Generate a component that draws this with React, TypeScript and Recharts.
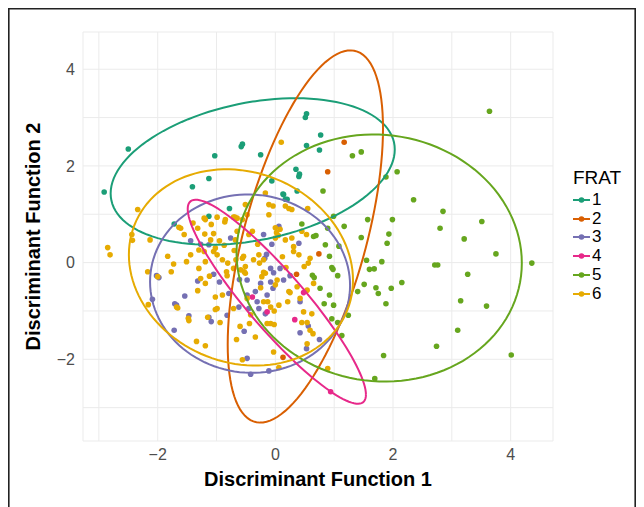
import React from 'react';
import { ScatterChart, Scatter, XAxis, YAxis, CartesianGrid, Label } from 'recharts';

// FRAT group colours (Dark2)
const fratLevels = ['1', '2', '3', '4', '5', '6'];
const fratColors = ['#1B9E77', '#D95F02', '#7570B3', '#E7298A', '#66A61E', '#E6AB02'];

const xTicks = [-3, -2, -1, 0, 1, 2, 3, 4];
const yTicks = [-3, -2, -1, 0, 1, 2, 3, 4];

// [DF1, DF2] scores per group
const frat1 = [
  [-2.5, 2.35], [-2.91, 1.46], [-1.03, 2.21], [-0.56, 2.45], [-0.58, 2.4], [-0.25, 2.23],
  [-1.13, 1.74], [-1.41, 1.57], [-0.06, 1.69], [0.14, 1.41], [0.2, 1.31], [-1.13, 0.96],
  [-0.78, 1.12], [0.53, 3.08], [0.51, 3.0], [0.77, 2.64], [0.53, 2.42], [0.75, 2.33],
  [0.35, 1.93], [0.41, 1.83], [0.4, 1.78], [0.13, 1.42], [0.17, 1.31], [0.37, 1.48], [-1.72, 0.8],
];
const frat2 = [[1.17, 2.49], [0.89, 1.88], [0.74, 0.18], [0.36, -0.24], [0.13, -1.96]];
const frat3 = [
  [-1.44, 0.45], [-1.27, 0.38], [-1.13, 0.37], [-0.76, 0.51], [-2.02, -0.27], [-1.98, -0.31],
  [-2.09, -0.76], [-1.54, -0.69], [-1.71, -0.85], [-1.68, -0.88], [-1.32, -0.38], [-1.05, -0.24],
  [-0.95, -0.4], [-0.79, -0.64], [-0.61, -0.35], [-1.47, -1.1], [-1.13, -1.13], [-0.62, -0.92],
  [-0.48, -0.67], [0.06, 0.75], [-0.2, 0.58], [-0.06, 0.38], [-0.15, 0.17], [-0.18, 0.09],
  [0.4, 0.4], [-0.08, -0.12], [-0.03, -0.21], [0.08, -0.12], [-0.48, -0.36], [-0.25, -0.43],
  [-0.08, -0.4], [-0.04, -0.53], [0.14, -0.36], [0.25, -0.27], [-0.34, -0.6], [-0.14, -0.67],
  [0.42, -0.81], [-0.31, -0.81], [-0.28, -0.95], [-0.45, -0.95], [-1.72, -1.4], [-1.09, -1.22],
  [-0.82, -1.09], [-0.53, -1.42], [-0.48, -1.98], [-0.42, -2.31], [-0.11, -2.24], [0.42, -1.45],
  [0.75, -1.59], [0.53, -1.78], [0.56, -1.31], [-0.17, -1.06],
];
const frat4 = [[0.48, -0.62], [-0.39, -0.71], [-0.14, -1.02], [0.33, -1.18], [0.94, -2.67]];
const frat5 = [
  [3.64, 3.13], [1.31, 2.21], [1.46, 2.29], [2.07, 1.88], [1.88, 1.77], [0.81, 1.48], [2.35, 1.3],
  [2.85, 1.06], [3.51, 0.85], [2.8, 0.71], [3.21, 0.49], [1.99, 0.89], [1.57, 0.89], [1.93, 0.59],
  [1.17, 0.75], [1.46, 0.52], [0.99, 0.96], [0.45, 0.8], [0.69, 0.56], [0.65, 0.54], [0.89, 0.71],
  [3.75, 0.18], [4.36, -0.01], [2.71, -0.05], [2.76, -0.05], [3.27, -0.24], [2.15, -0.41],
  [1.97, -0.53], [3.15, -0.79], [3.59, -0.9], [3.1, -1.4], [2.74, -1.73], [4.01, -1.91],
  [1.84, -1.92], [1.69, -2.4], [1.88, -0.85], [1.75, -0.64], [1.71, -0.52], [1.51, -0.45],
  [1.4, -0.6], [1.55, 0.05], [1.6, -0.14], [1.68, -0.13], [1.81, 0.02], [1.9, 0.4], [0.85, 0.37],
  [1.08, 0.34], [0.92, 0.13], [0.96, -0.1], [0.98, -0.14], [1.06, -0.27], [0.63, -0.26],
  [0.66, -0.31], [0.76, -0.53], [0.92, -0.67], [0.83, -0.85], [0.96, -1.16], [1.06, -1.24],
  [1.13, -1.51], [0.99, -0.88], [1.24, -1.09],
];
const frat6 = [
  [0.1, 2.49], [-2.34, 1.1], [-0.17, 1.44], [-0.11, 1.2], [-0.04, 1.17], [0.17, 1.17],
  [-2.85, 0.31], [-2.81, 0.16], [-2.43, 0.46], [-2.13, 0.47], [-1.61, 0.71], [-1.55, 0.58],
  [-1.32, 0.71], [-1.19, 0.89], [-1.09, 0.79], [-0.99, 0.94], [-0.86, 0.84], [-1.2, 0.59],
  [-1.1, 0.47], [-1.44, 0.16], [-1.51, 0.02], [-1.83, 0.13], [-1.73, -0.03], [-1.77, -0.19],
  [-2.17, -0.19], [-2.0, -0.29], [-1.3, 0.26], [-1.21, 0.23], [-1.19, 0.02], [-1.05, 0.23],
  [-0.99, 0.16], [-1.02, 0.3], [-0.95, 0.45], [-1.3, -0.12], [-1.27, -0.33], [-1.32, -0.58],
  [-1.19, -0.43], [-0.81, -0.01], [-0.83, -0.19], [-0.82, -0.27], [-0.71, -0.12], [-1.02, -0.71],
  [-0.9, -0.67], [-1.02, -0.97], [-1.66, -0.94], [-1.48, -1.15], [-2.16, -0.87], [-0.68, 0.47],
  [-0.65, 0.65], [-0.65, 0.92], [-0.51, 1.2], [-0.48, 0.99], [-0.54, 0.13], [-0.53, -0.19],
  [-0.11, 0.99], [0.23, 1.12], [0.28, 1.1], [0.55, 1.12], [-0.71, 0.94], [-0.39, 0.65],
  [-0.45, 0.58], [0.0, 0.72], [0.08, 0.69], [0.02, 0.62], [0.05, 0.56], [0.0, 0.51], [0.17, 0.47],
  [0.28, 0.51], [0.31, 0.33], [0.45, 0.65], [0.53, 0.58], [0.31, 0.23], [0.4, 0.16], [0.59, 0.09],
  [0.56, -0.01], [0.49, -0.08], [-0.67, 0.06], [-0.56, 0.09], [-0.59, -0.15], [-0.51, -0.08],
  [-0.51, -0.22], [-0.37, 0.06], [-0.28, 0.16], [-0.27, -0.01], [-0.2, 0.06], [-0.2, -0.2],
  [-0.17, -0.22], [-0.23, -0.29], [0.0, -0.46], [0.03, -0.36], [0.23, -0.6], [0.25, -0.62],
  [0.37, -0.5], [0.65, -0.43], [0.42, -0.74], [0.54, -0.57], [0.21, -0.81], [-0.2, -0.81],
  [-0.13, -0.81], [-0.08, -0.92], [0.06, -0.88], [-0.48, -0.74], [-0.71, -0.95], [0.62, -1.06],
  [0.48, -1.02], [-0.56, 0.89], [-1.47, -1.2], [-1.34, -1.63], [-1.19, -1.72], [-1.15, -1.13],
  [-0.94, -1.24], [-0.99, -0.95], [-0.66, -1.59], [-0.44, -1.26], [-0.34, -1.54], [-0.56, -2.01],
  [-0.14, -1.26], [-0.08, -1.26], [-0.02, -1.28], [-0.02, -1.0], [-0.03, -1.85], [0.06, -2.17],
  [0.45, -1.24], [0.54, -1.24], [0.59, -1.4], [0.64, -1.47], [0.54, -1.68], [0.89, -2.19],
  [-1.68, -0.92], [-2.44, 0.58], [-1.64, 0.73], [-1.21, 0.92], [-0.85, 0.89], [-0.69, 0.94],
  [-1.4, 0.82], [-1.05, 0.6], [-0.87, 0.36], [-0.9, 0.06], [-1.12, -0.28], [-0.7, 0.25],
  [-0.3, 0.38], [-0.25, -0.52], [0.12, 0.12], [0.18, -0.1], [-0.42, -1.08], [-0.6, -1.32],
];
const groups = [frat1, frat2, frat3, frat4, frat5, frat6];

// 95% ellipses: centre, half-widths along x / y, and correlation (tilt)
const ellCx = [-0.385, 0.51, -0.43, 0.025, 1.765, -0.585];
const ellCy = [1.885, 0.54, -0.435, -0.81, 0.095, -0.1];
const ellRx = [2.415, 1.32, 1.7, 1.515, 2.425, 1.905];
const ellRy = [1.515, 3.85, 1.845, 2.11, 2.555, 2.03];
const ellRho = [0.3, 0.58, -0.02, -0.91, -0.04, -0.13];

const ellipsePoints = (i: number) => {
  const pts: { x: number; y: number }[] = [];
  const s = Math.sqrt(1 - ellRho[i] * ellRho[i]);
  for (let k = 0; k <= 120; k++) {
    const t = (2 * Math.PI * k) / 120;
    pts.push({
      x: ellCx[i] + ellRx[i] * Math.cos(t),
      y: ellCy[i] + ellRy[i] * (ellRho[i] * Math.cos(t) + s * Math.sin(t)),
    });
  }
  return pts;
};

const fmt = (v: number) => (v % 2 === 0 ? String(v).replace('-', '\u2212') : '');
const font = '"Liberation Sans", Arial, sans-serif';
const noShape = () => <g />;

const YTitle = (props: any) => {
  const vb = props.viewBox || {};
  const cy = vb.y + vb.height / 2;
  return (
    <text x={25} y={cy} transform={`rotate(-90, 25, ${cy})`} textAnchor="middle" dominantBaseline="central"
      style={{ fontFamily: font, fontWeight: 700, fontSize: 20, fill: '#000' }}>
      Discriminant Function 2
    </text>
  );
};

const App: React.FC = () => {
  return (
    <div style={{ position: 'relative', width: 628, height: 500, fontFamily: font }}>
      <ScatterChart width={628} height={500} margin={{ top: 24, right: 83, bottom: 7, left: 0 }}>
        <CartesianGrid stroke="#ebebeb" strokeWidth={1} />
        <XAxis type="number" dataKey="x" domain={[-3.27, 4.72]} ticks={xTicks} tickFormatter={fmt}
          allowDataOverflow axisLine={false} tickLine={false} height={60}
          tick={{ fill: '#4d4d4d', fontSize: 16, fontFamily: font }}>
          <Label value="Discriminant Function 1" position="insideBottom" offset={15}
            style={{ fontFamily: font, fontWeight: 700, fontSize: 20, fill: '#000' }} />
        </XAxis>
        <YAxis type="number" dataKey="y" domain={[-3.69, 4.77]} ticks={yTicks} tickFormatter={fmt}
          allowDataOverflow axisLine={false} tickLine={false} width={75}
          tick={{ fill: '#4d4d4d', fontSize: 16, fontFamily: font }}>
          <Label content={<YTitle />} />
        </YAxis>
        {groups.map((g, i) => (
          <Scatter key={'p' + i} data={g.map(([x, y]) => ({ x, y }))} isAnimationActive={false}
            shape={(p: any) => <circle cx={p.cx} cy={p.cy} r={2.8} fill={fratColors[i]} />} />
        ))}
        {fratLevels.map((f, i) => (
          <Scatter key={'e' + f} data={ellipsePoints(i)} isAnimationActive={false} shape={noShape}
            line={{ stroke: fratColors[i], strokeWidth: 2 }} lineType="joint" />
        ))}
      </ScatterChart>

      {/* legend */}
      <div style={{ position: 'absolute', left: 565, top: 159, fontSize: 19, color: '#000' }}>FRAT</div>
      {fratLevels.map((f, i) => (
        <div key={f} style={{ position: 'absolute', left: 565, top: 183 + i * 18.7, height: 18, display: 'flex', alignItems: 'center' }}>
          <svg width={18} height={18}>
            <line x1={0} x2={17} y1={9} y2={9} stroke={fratColors[i]} strokeWidth={2} />
            <circle cx={8.5} cy={9} r={2.8} fill={fratColors[i]} />
          </svg>
          <span style={{ fontSize: 17, color: '#000', marginLeft: 1 }}>{f}</span>
        </div>
      ))}

      {/* figure frame, drawn on top */}
      <svg width={628} height={500} style={{ position: 'absolute', left: 0, top: 0, pointerEvents: 'none' }}>
        <polyline points="0.8,500 0.8,0.8 627.2,0.8 627.2,500" fill="none" stroke="#222" strokeWidth={1.6} />
      </svg>
    </div>
  );
};

export default App;
